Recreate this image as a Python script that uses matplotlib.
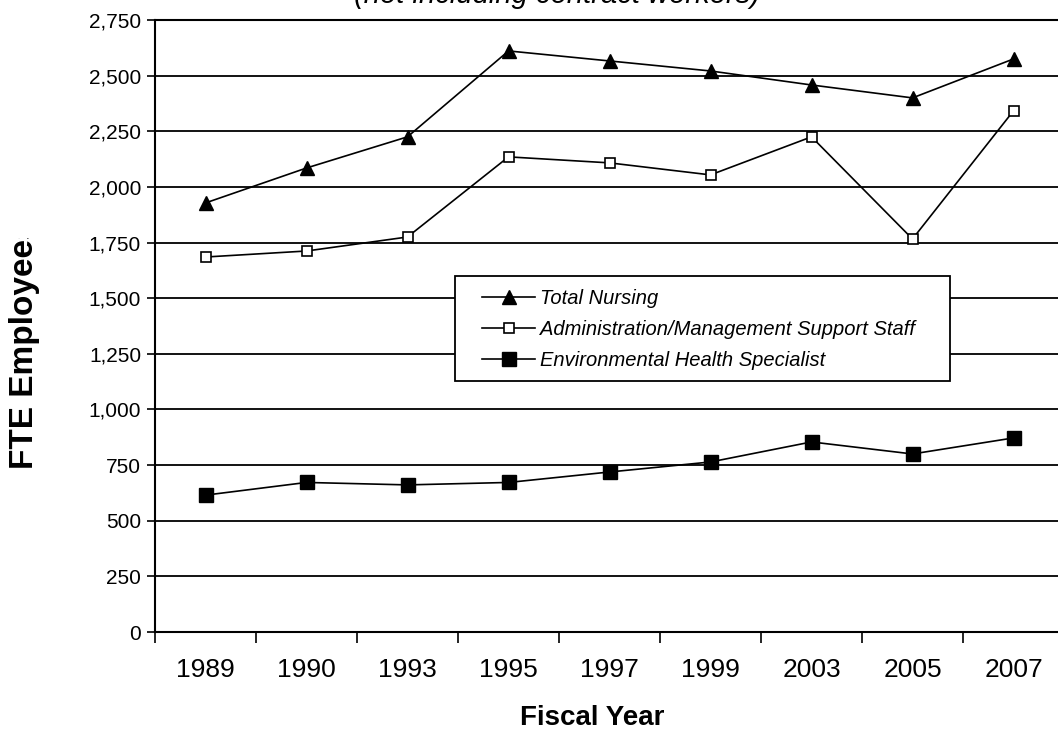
import matplotlib.pyplot as plt
from matplotlib.patches import Rectangle
from matplotlib.transforms import Bbox, TransformedBbox
from matplotlib.ticker import FuncFormatter, MultipleLocator

plt.rcParams['font.family'] = ['Liberation Sans', 'DejaVu Sans']

# data
years = ["1989", "1990", "1993", "1995", "1997", "1999", "2003", "2005", "2007"]
total_nursing = [1928, 2085, 2225, 2611, 2566, 2521, 2458, 2400, 2575]
admin_support = [1685, 1712, 1775, 2135, 2108, 2054, 2225, 1766, 2342]
env_health = [615, 672, 661, 672, 719, 764, 854, 800, 872]

W, H = 1058, 742
fig = plt.figure(figsize=(W / 100, H / 100), dpi=100)
ax = fig.add_axes([155 / W, 1 - 632 / H, 909 / W, 612 / H])

x = list(range(len(years)))

# horizontal gridlines
for v in range(250, 2751, 250):
    ax.axhline(v, color='black', lw=1.3, zorder=1)

ax.plot(x, total_nursing, color='black', lw=1.2, marker='^', markersize=10,
        label='Total Nursing', zorder=3)
ax.plot(x, admin_support, color='black', lw=1.2, marker='s', markersize=7,
        markerfacecolor='white', markeredgewidth=1.2,
        label='Administration/Management Support Staff', zorder=3)
ax.plot(x, env_health, color='black', lw=1.2, marker='s', markersize=9.5,
        label='Environmental Health Specialist', zorder=3)

ax.set_xlim(-0.5, len(years) - 0.5)
ax.set_ylim(0, 2750)
ax.yaxis.set_major_locator(MultipleLocator(250))
ax.yaxis.set_major_formatter(FuncFormatter(lambda v, p: f"{int(v):,}"))

# category labels centred, ticks between categories
ax.set_xticks([i - 0.5 for i in range(len(years) + 1)])
ax.set_xticklabels([])
ax.set_xticks(x, minor=True)
ax.set_xticklabels(years, minor=True, fontsize=19)
ax.tick_params(axis='x', which='minor', length=0, pad=19)
ax.tick_params(axis='x', which='major', length=8, width=1.2, direction='out')
ax.tick_params(axis='y', length=6, width=1.2, direction='out', labelsize=15, pad=4)

for s in ax.spines.values():
    s.set_linewidth(1.5)
    s.set_color('black')

# title is cut off at the top of the picture
fig.text(557 / W, 1 - 3 / H, "(not including contract workers)", ha='center',
         va='baseline', fontsize=21, style='italic')

fig.text(592 / W, 1 - 718 / H, "Fiscal Year", ha='center', va='center',
         fontsize=20, fontweight='bold')

yl = fig.text(25 / W, 1 - 469 / H, "FTE Employees", rotation=90, ha='center',
              va='bottom', fontsize=24, fontweight='bold')
yl.set_clip_box(TransformedBbox(Bbox([[0, 0], [1, 1 - 238 / H]]), fig.transFigure))
yl.set_clip_on(True)

# legend box drawn separately so its padding matches the reference
box = Rectangle((455 / W, 1 - 381 / H), 495 / W, 105 / H, transform=fig.transFigure,
                facecolor='white', edgecolor='black', lw=1.3, zorder=4)
fig.patches.append(box)
leg = fig.legend(loc='upper left', bbox_to_anchor=(474 / W, 1 - 281 / H),
                 borderaxespad=0, frameon=False,
                 prop={'style': 'italic', 'size': 14.5}, handlelength=2.65,
                 handletextpad=0.25, labelspacing=0.6, borderpad=0.4)
leg.set_zorder(5)

fig.savefig('out.png', dpi=100)
